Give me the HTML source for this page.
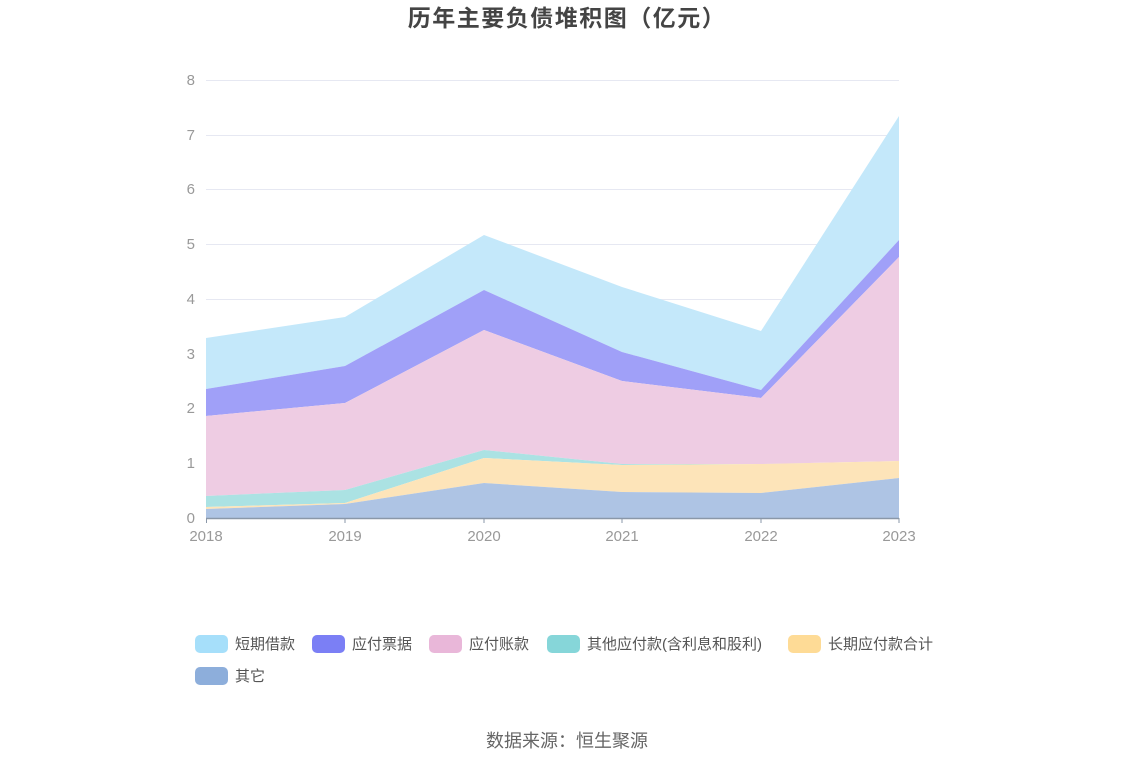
<!DOCTYPE html>
<html><head><meta charset="utf-8"><style>
body{margin:0;background:#fff;font-family:"Liberation Sans","Noto Sans CJK SC",sans-serif;}
</style></head><body>
<svg width="1134" height="766" xmlns="http://www.w3.org/2000/svg" font-family="Liberation Sans, Noto Sans CJK SC, sans-serif">
<text x="567" y="26" text-anchor="middle" font-size="23" letter-spacing="1.5" font-weight="bold" fill="#444">历年主要负债堆积图（亿元）</text>
<g stroke="#e6e8f2" stroke-width="1">
<line x1="206" x2="899" y1="80.5" y2="80.5"/><line x1="206" x2="899" y1="135.5" y2="135.5"/>
<line x1="206" x2="899" y1="189.5" y2="189.5"/><line x1="206" x2="899" y1="244.5" y2="244.5"/>
<line x1="206" x2="899" y1="299.5" y2="299.5"/><line x1="206" x2="899" y1="354.5" y2="354.5"/>
<line x1="206" x2="899" y1="408.5" y2="408.5"/><line x1="206" x2="899" y1="463.5" y2="463.5"/>
</g>
<g font-size="15" fill="#999" text-anchor="end">
<text x="195" y="85">8</text><text x="195" y="140">7</text><text x="195" y="194">6</text><text x="195" y="249">5</text>
<text x="195" y="304">4</text><text x="195" y="359">3</text><text x="195" y="413">2</text><text x="195" y="468">1</text><text x="195" y="523">0</text>
</g>
<polygon fill="#c4e8fa" points="206,338 345,317 484,235 622,287 761,331 899,116 899,240 761,390 622,352 484,290 345,366 206,389"/>
<polygon fill="#a0a0f8" points="206,389 345,366 484,290 622,352 761,390 899,240 899,257 761,398 622,381 484,330 345,403 206,416"/>
<polygon fill="#eecce3" points="206,416 345,403 484,330 622,381 761,398 899,257 899,461 761,464 622,464 484,450 345,490 206,496"/>
<polygon fill="#abe2e3" points="206,496 345,490 484,450 622,464 761,464 899,461 899,461 761,464 622,465 484,458 345,503 206,507"/>
<polygon fill="#fde4b9" points="206,507 345,503 484,458 622,465 761,464 899,461 899,478 761,493 622,492 484,483 345,504 206,509"/>
<polygon fill="#aec4e4" points="206,509 345,504 484,483 622,492 761,493 899,478 899,518 206,518"/>
<line x1="206" x2="899" y1="518.5" y2="518.5" stroke="#8a97a8" stroke-width="1.5"/>
<g stroke="#8a97a8"><line x1="206.5" x2="206.5" y1="518" y2="523"/><line x1="345" x2="345" y1="518" y2="523"/><line x1="484" x2="484" y1="518" y2="523"/><line x1="622" x2="622" y1="518" y2="523"/><line x1="761" x2="761" y1="518" y2="523"/><line x1="899" x2="899" y1="518" y2="523"/></g>
<g font-size="15" fill="#999" text-anchor="middle">
<text x="206" y="541">2018</text><text x="345" y="541">2019</text><text x="484" y="541">2020</text><text x="622" y="541">2021</text><text x="761" y="541">2022</text><text x="899" y="541">2023</text>
</g>
<g font-size="15" fill="#555">
<rect x="195" y="635" width="33" height="18" rx="5" fill="#a6dffa"/><text x="235" y="649">短期借款</text>
<rect x="312" y="635" width="33" height="18" rx="5" fill="#7b7ff5"/><text x="352" y="649">应付票据</text>
<rect x="429" y="635" width="33" height="18" rx="5" fill="#e9b7d9"/><text x="469" y="649">应付账款</text>
<rect x="547" y="635" width="33" height="18" rx="5" fill="#86d6d9"/><text x="587" y="649">其他应付款(含利息和股利)</text>
<rect x="788" y="635" width="33" height="18" rx="5" fill="#fedb96"/><text x="828" y="649">长期应付款合计</text>
<rect x="195" y="667" width="33" height="18" rx="5" fill="#8daedb"/><text x="235" y="681">其它</text>
</g>
<text x="567" y="747" text-anchor="middle" font-size="18" fill="#666">数据来源：恒生聚源</text>
</svg>
</body></html>
